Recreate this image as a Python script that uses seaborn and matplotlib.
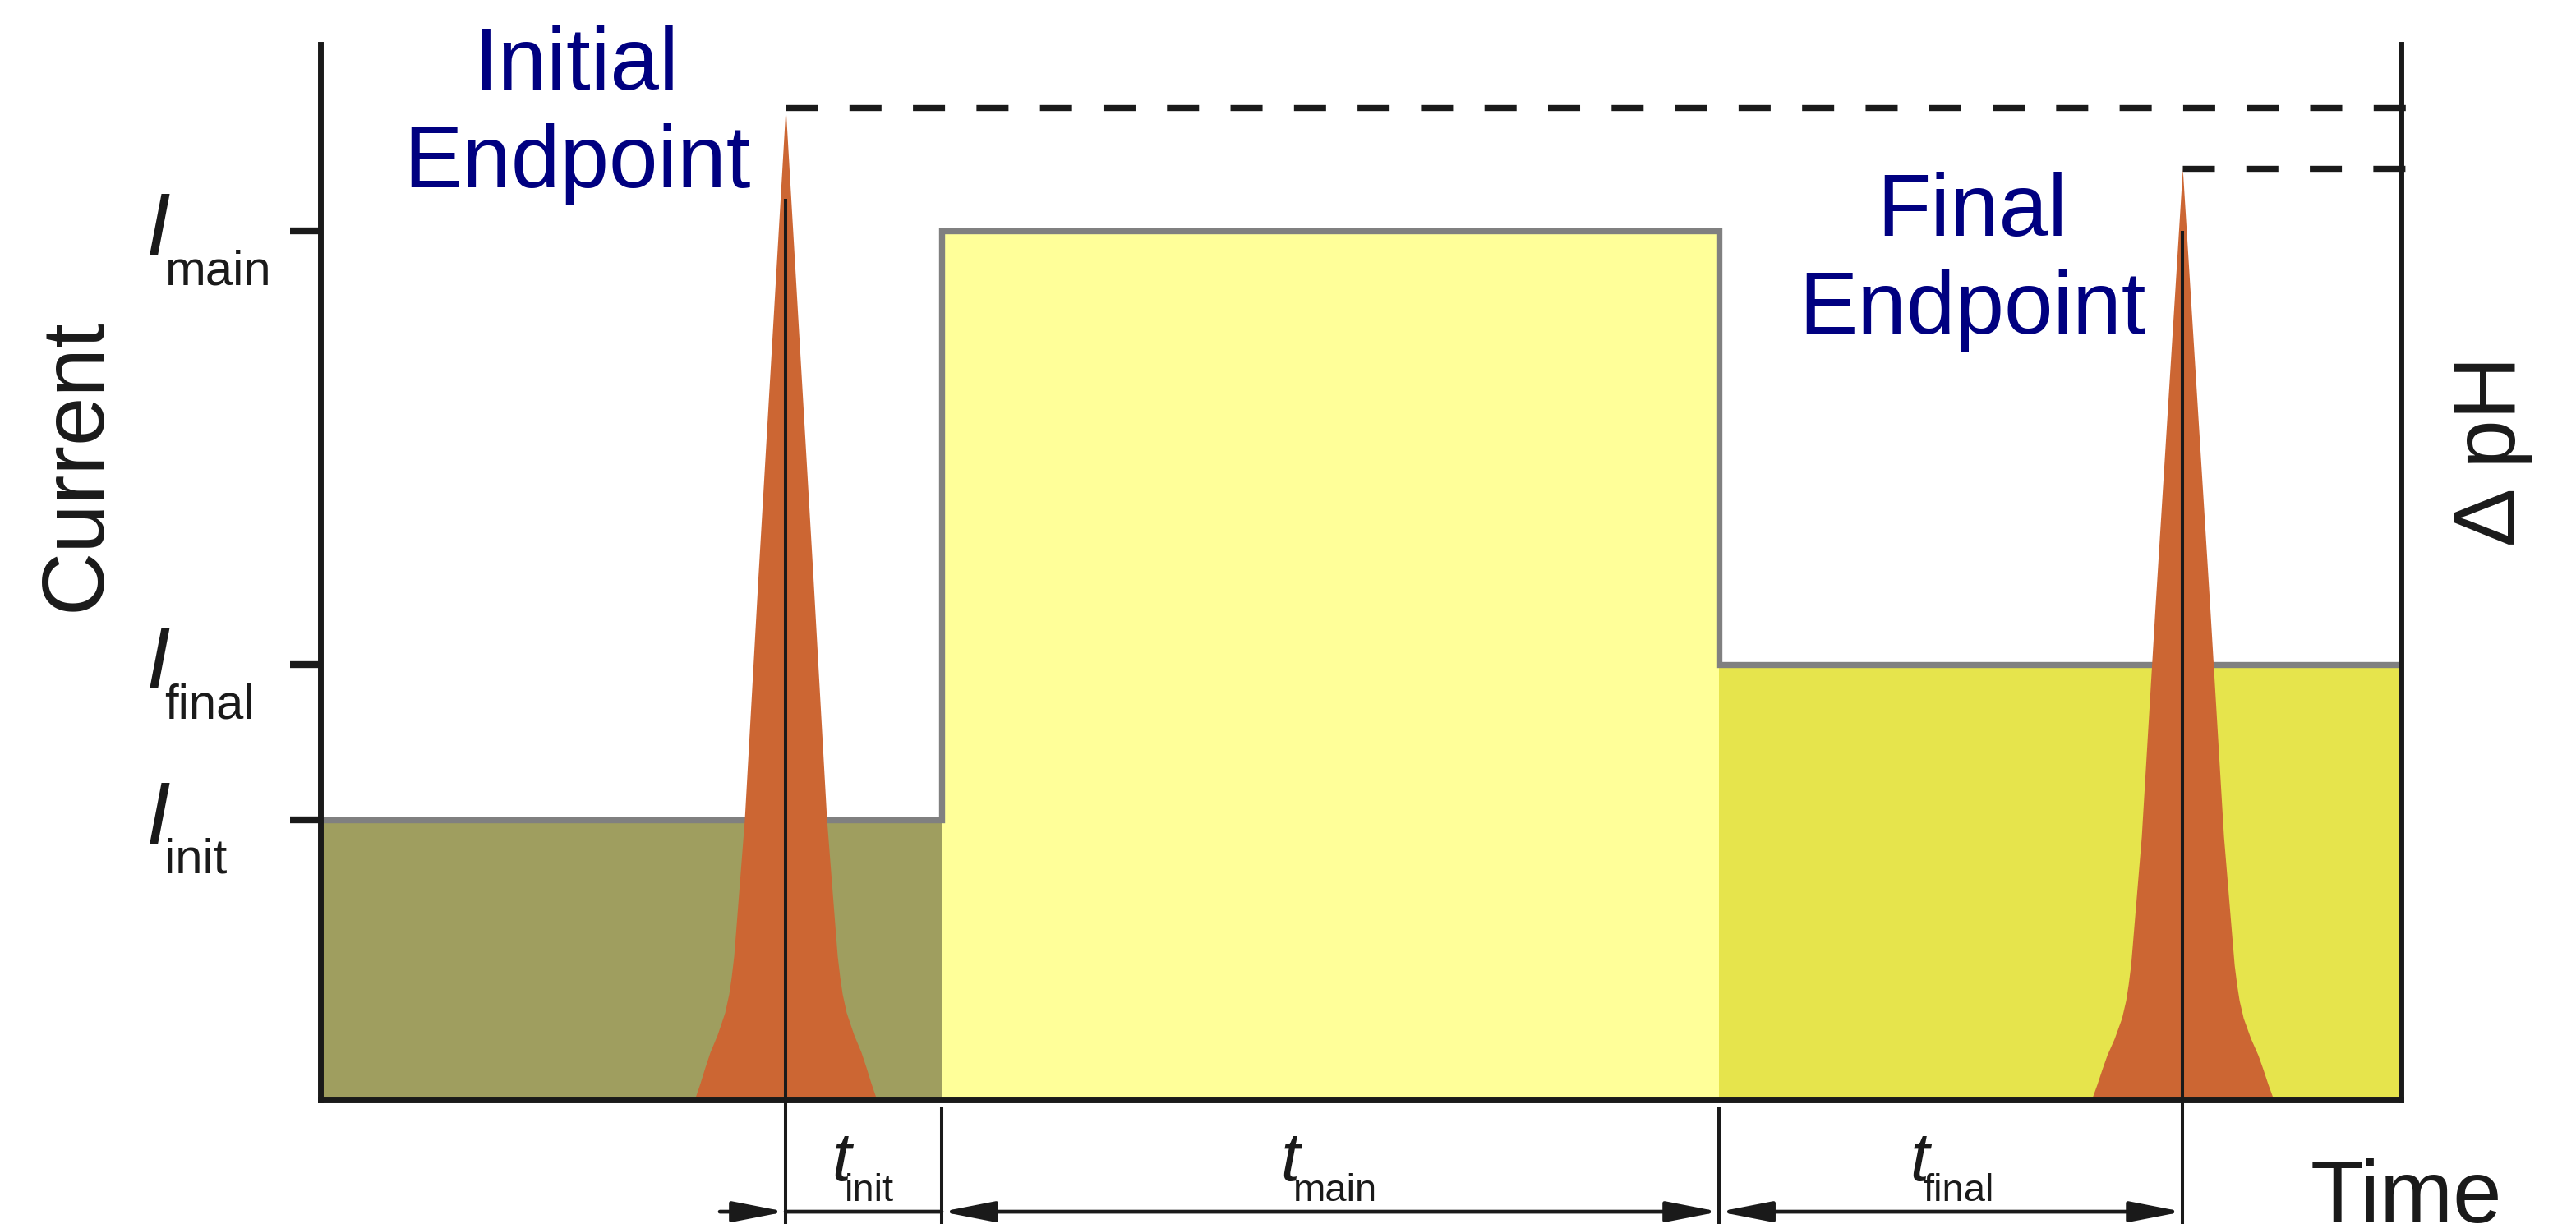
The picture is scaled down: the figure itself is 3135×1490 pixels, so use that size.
import numpy as np
import matplotlib
matplotlib.use("Agg")
import matplotlib.pyplot as plt
import seaborn as sns

# current steps (time, current), arbitrary units
step_t = [0, 37.8, 85.1, 126.6]
step_i = [17.06, 52.9, 26.5, 26.5]
seg_colors = ["#9f9e5f", "#ffff99", "#e6e44c"]

i_ticks = [17.06, 26.5, 52.9]
i_subs = ["init", "final", "main"]

# pH endpoint peaks
peak_t = [28.3, 113.3]
peak_h = [60.4, 56.7]
peak_line_top = [54.85, 52.9]
# peak profile: fraction of peak height -> half width
shape_frac = [0, 0.017, 0.033, 0.048, 0.066, 0.088, 0.107, 0.124, 0.145, 0.166, 0.283, 0.528, 1.0]
shape_hw = [5.55, 5.2, 4.9, 4.6, 4.15, 3.7, 3.45, 3.3, 3.15, 3.05, 2.5, 1.67, 0]

t_subs = ["init", "main", "final"]

sns.set_theme(style="white")
plt.rcParams["font.family"] = ["Liberation Sans", "DejaVu Sans"]
plt.rcParams["text.color"] = "black"

big = 77
navy = "#000080"

fig = plt.figure(figsize=(31.35, 14.9), dpi=100)
ax = fig.add_axes([0.1244, 0.1013, 0.8077, 0.8624])

# coloured areas under the current
ax.bar(step_t[:-1], step_i[:-1], width=np.diff(step_t), align="edge",
       color=seg_colors, linewidth=0, zorder=1)
sns.lineplot(x=step_t, y=step_i, drawstyle="steps-post", color="#808080",
             linewidth=5.3, solid_joinstyle="miter", ax=ax, zorder=2)

# peaks
for c, h in zip(peak_t, peak_h):
    y = np.array(shape_frac) * h
    hw = np.array(shape_hw)
    ax.fill_betweenx(y, c - hw, c + hw, color="#cc6633", linewidth=0, zorder=3)

ax.vlines(peak_t, -7.6, peak_line_top, colors="k", lw=2.9, zorder=4, clip_on=False)
ax.vlines(step_t[1:3], -7.6, -0.4, colors="k", lw=2.9, clip_on=False)

# dashed delta pH levels
for c, h in zip(peak_t, peak_h):
    ax.plot([c, 128.5], [h, h], color="k", lw=5.3, ls=(0, (5.3, 5.2)),
            clip_on=False, zorder=4, dash_capstyle="butt")

# time intervals
dim_y = -6.8
head = ",head_length=39,head_width=7.6"


def dim_arrow(x0, x1, style):
    ax.annotate("", xy=(x1, dim_y), xytext=(x0, dim_y), annotation_clip=False,
                arrowprops=dict(arrowstyle=style, color="k", lw=3.4,
                                shrinkA=0, shrinkB=0, mutation_scale=1))


dim_arrow(24.3, peak_t[0], "-|>" + head)
dim_arrow(peak_t[0], step_t[1], "-")
dim_arrow(step_t[1], step_t[2], "<|-|>" + head)
dim_arrow(step_t[2], peak_t[1], "<|-|>" + head)

t_label_x = [31.1, 58.4, 96.7]
for x, sub in zip(t_label_x, t_subs):
    ax.text(x, -4.89, "t", style="italic", fontsize=60, ha="left", va="baseline", color="k")
    ax.text(x + 0.8, -6.14, sub, fontsize=34, ha="left", va="baseline", color="k")

# current tick labels
for val, sub in zip(i_ticks, i_subs):
    ax.text(-10.6, val - 1.47, "I", style="italic", fontsize=big, ha="left",
            va="baseline", color="k")
    ax.text(-9.5, val - 3.25, sub, fontsize=43, ha="left", va="baseline", color="k")

for txt, x, y in [("Initial", 15.55, 61.5), ("Endpoint", 15.6, 55.55),
                  ("Final", 100.5, 52.6), ("Endpoint", 100.5, 46.67)]:
    ax.text(x, y, txt, ha="center", va="baseline", fontsize=big, color=navy)

ax.text(-13.4, 38.65, "Current", rotation=90, rotation_mode="anchor",
        ha="center", va="baseline", fontsize=big, color="k")
ax.text(133.55, 39.5, "\u0394 pH", rotation=90, rotation_mode="anchor",
        ha="center", va="baseline", fontsize=big, color="k")
ax.text(121.05, -7.45, "Time", ha="left", va="baseline", fontsize=big, color="k")

ax.set_xlim(0, 126.6)
ax.set_ylim(0, 64.25)
ax.set_xticks([])
ax.set_yticks(i_ticks)
ax.set_yticklabels([])
ax.tick_params(axis="y", direction="out", length=26.6, width=6, color="k", left=True)
ax.set_xlabel("")
ax.set_ylabel("")
ax.spines["top"].set_visible(False)
for s in ["left", "right", "bottom"]:
    ax.spines[s].set_linewidth(5)
    ax.spines[s].set_color("k")
    ax.spines[s].set_zorder(6)
ax.patch.set_alpha(0)

fig.savefig("out.png", dpi=100)
